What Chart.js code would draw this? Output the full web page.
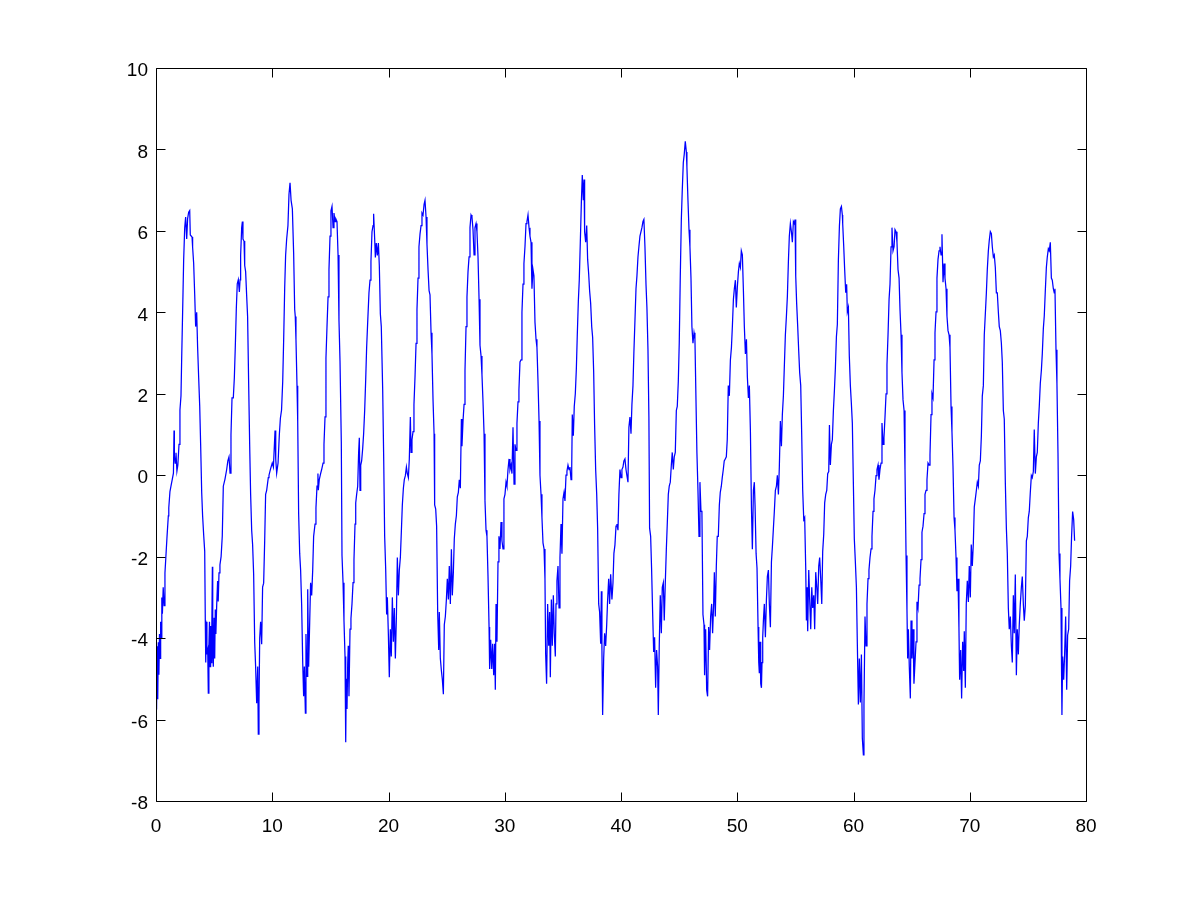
<!DOCTYPE html>
<html>
<head>
<meta charset="utf-8">
<script src="https://cdn.jsdelivr.net/npm/chart.js@4/dist/chart.umd.min.js"></script>
<style>
html,body{margin:0;padding:0;background:#fff;}
canvas{display:block;}
</style>
</head>
<body>
<canvas id="c" width="1200" height="901"></canvas>
<script>
// ---- data ----
const xTicks = [0, 10, 20, 30, 40, 50, 60, 70, 80];
const yTicks = [-8, -6, -4, -2, 0, 2, 4, 6, 8, 10];

const seg1 = [[0,-5.2],[0.05,-5.75],[0.1,-4.2],[0.15,-5.5],[0.2,-4.1],[0.25,-4.9],[0.3,-3.9],[0.35,-4.5],[0.4,-3.6],[0.45,-4.0],[0.5,-3.0],[0.55,-3.4],[0.62,-2.75],[0.7,-3.2],[0.77,-2.4],[0.85,-2.0],[0.95,-1.5],[1.06,-1.0],[1.1,-0.8],[1.2,-0.4],[1.3,-0.25],[1.4,-0.1],[1.5,0.05],[1.55,1.1],[1.58,0.5],[1.65,0.3],[1.72,0.55],[1.8,0.1],[1.88,0.25],[1.98,0.76],[2.06,1.6],[2.15,1.95],[2.21,2.88],[2.29,4.0],[2.38,5.3],[2.47,6.08],[2.55,6.34],[2.64,5.8],[2.72,6.3],[2.81,6.46],[2.9,6.5],[2.95,5.9],[3.1,5.85],[3.15,5.6],[3.24,5.2],[3.33,4.43],[3.41,3.65],[3.5,4.0],[3.58,3.14],[3.67,2.4],[3.76,1.7],[3.84,0.76],[3.93,-0.42],[4.01,-1.0],[4.1,-1.46],[4.19,-1.87],[4.24,-3.57],[4.28,-4.6],[4.33,-3.6],[4.38,-4.4],[4.45,-4.3],[4.5,-5.35],[4.55,-4.2],[4.6,-3.6],[4.65,-4.7],[4.7,-3.7],[4.75,-4.6],[4.8,-3.8],[4.85,-2.25],[4.88,-4.2],[4.93,-4.7],[5.0,-3.5],[5.05,-4.5],[5.1,-3.3],[5.15,-3.9],[5.22,-3.2],[5.3,-2.6],[5.35,-3.1],[5.42,-2.4],[5.5,-2.2],[5.6,-2.0],[5.7,-1.5],[5.79,-0.27],[5.93,-0.1],[6.08,0.14],[6.18,0.35],[6.28,0.45],[6.37,0.05],[6.45,1.0],[6.54,1.9],[6.65,1.9],[6.74,2.4],[6.82,3.14],[6.91,4.1],[6.99,4.7],[7.08,4.8],[7.17,4.5],[7.23,4.8],[7.28,5.4],[7.37,6.08],[7.43,6.23],[7.48,5.8],[7.57,5.75],[7.63,5.15],[7.71,5.0],[7.8,4.4],[7.88,3.9],[7.97,2.26],[8.06,0.71],[8.14,-0.47],[8.23,-1.35],[8.31,-1.7],[8.4,-2.44],[8.49,-4.1],[8.57,-4.7],[8.66,-5.6],[8.75,-4.7],[8.8,-6.36],[8.86,-5.6],[8.92,-4.0],[9.0,-3.6],[9.09,-4.15],[9.17,-2.75],[9.26,-2.65],[9.35,-1.6],[9.43,-0.47],[9.52,-0.37],[9.66,-0.06]];

const seg2 = [[9.72,0.0],[9.85,0.15],[10.0,0.3],[10.1,0.2],[10.24,1.1],[10.3,0.4],[10.38,0.05],[10.5,0.3],[10.61,1.0],[10.7,1.4],[10.8,1.6],[10.9,2.3],[10.98,3.3],[11.07,4.6],[11.15,5.4],[11.24,5.8],[11.35,6.13],[11.44,6.9],[11.53,7.18],[11.62,6.75],[11.73,6.54],[11.84,5.46],[11.93,4.07],[11.98,3.9],[12.04,3.34],[12.13,2.2],[12.19,1.33],[12.27,-0.94],[12.36,-1.92],[12.44,-2.33],[12.53,-3.2],[12.62,-4.6],[12.7,-5.43],[12.76,-4.7],[12.85,-5.84],[12.9,-3.9],[12.99,-4.94],[13.05,-2.8],[13.13,-4.7],[13.22,-3.62],[13.3,-2.64],[13.39,-2.95],[13.48,-2.33],[13.56,-1.5],[13.68,-1.2],[13.76,-0.8],[13.85,-0.27],[13.93,0.04],[13.96,-0.37],[14.05,-0.1],[14.16,0.04],[14.25,0.14],[14.37,0.3],[14.45,0.76],[14.54,1.43],[14.62,2.88],[14.71,3.65],[14.8,4.38],[14.88,5.05],[14.97,5.87],[15.05,6.49],[15.14,6.6],[15.23,6.08],[15.31,6.44],[15.4,6.23],[15.48,6.29],[15.57,6.23],[15.66,5.41],[15.74,3.8],[15.83,2.78],[15.94,0.82],[16.0,-1.97],[16.09,-2.64],[16.17,-3.57],[16.26,-4.45],[16.32,-6.56],[16.37,-5.0],[16.43,-5.74],[16.49,-4.65],[16.54,-4.19],[16.6,-5.43],[16.69,-3.78],[16.77,-3.52],[16.86,-3.16],[16.95,-2.64],[17.03,-2.07],[17.12,-1.2],[17.18,-0.68],[17.26,-0.47],[17.35,-0.27],[17.43,0.56],[17.49,0.92],[17.55,-0.37],[17.61,0.25],[17.69,0.35],[17.78,0.66],[17.86,1.02],[17.95,1.59],[18.04,2.36],[18.12,3.14],[18.21,3.76],[18.32,4.48],[18.41,4.79],[18.49,5.25],[18.58,5.98],[18.67,6.13],[18.72,6.42],[18.81,5.8],[18.87,5.35],[18.95,5.7],[19.04,5.4],[19.13,5.7],[19.21,5.15],[19.3,3.96],[19.38,3.65]];

const seg3 = [[19.5,2.1],[19.59,0.35],[19.67,-1.5],[19.76,-2.33],[19.84,-3.42],[19.9,-3.0],[19.99,-3.93],[20.07,-4.96],[20.16,-3.78],[20.24,-4.45],[20.33,-3.0],[20.42,-4.09],[20.5,-3.26],[20.59,-4.5],[20.68,-3.47],[20.76,-2.02],[20.85,-2.95],[20.93,-2.33],[21.02,-2.02],[21.11,-1.35],[21.19,-0.73],[21.28,-0.32],[21.36,-0.11],[21.45,-0.01],[21.54,0.2],[21.62,0.04],[21.71,-0.06],[21.79,0.4],[21.88,1.43],[21.94,0.56],[22.02,0.87],[22.11,1.07],[22.19,1.74],[22.28,2.41],[22.37,3.24],[22.45,4.07],[22.54,4.84],[22.62,5.61],[22.71,5.92],[22.8,6.13],[22.88,6.44],[22.97,6.39],[23.06,6.65],[23.14,6.75],[23.23,6.34],[23.31,5.67],[23.4,5.05],[23.49,4.53],[23.57,4.43],[23.66,3.5],[23.74,2.98],[23.83,1.85],[23.92,1.02],[23.97,-0.73],[24.06,-0.83],[24.14,-1.25],[24.23,-3.36],[24.32,-4.29],[24.37,-3.36],[24.46,-4.5],[24.55,-4.8],[24.63,-5.01],[24.72,-5.38],[24.8,-3.67],[24.89,-3.47],[24.98,-3.05],[25.06,-2.54],[25.15,-3.05],[25.23,-2.23],[25.32,-3.16],[25.41,-1.82],[25.49,-2.95],[25.58,-2.38],[25.66,-1.56],[25.75,-1.2],[25.84,-0.99],[25.92,-0.53],[26.01,-0.42],[26.09,-0.11],[26.18,-0.32],[26.27,1.38],[26.32,0.71],[26.41,1.33],[26.5,1.74],[26.58,2.57],[26.67,3.65],[26.75,4.38],[26.84,5.0],[26.93,5.36],[27.01,6.08],[27.1,6.39],[27.18,6.34],[27.27,6.03],[27.36,5.41],[27.44,6.08],[27.53,6.18],[27.61,5.98],[27.7,5.36],[27.79,4.32],[27.87,3.19],[27.96,2.93],[28.04,2.47],[28.13,1.8],[28.22,1.02],[28.3,-0.63],[28.39,-1.35],[28.47,-1.5],[28.56,-2.49],[28.65,-3.73],[28.7,-4.76],[28.79,-4.04],[28.88,-4.76],[28.96,-4.14],[29.05,-4.91],[29.13,-4.14],[29.19,-5.27]];

const seg4 = [[29.25,-3.16],[29.33,-4.09],[29.42,-2.13],[29.5,-1.5],[29.59,-1.81],[29.68,-1.15],[29.76,-1.61],[29.85,-1.81],[29.93,-0.58],[30.02,-0.47],[30.11,-0.17],[30.19,-0.27],[30.28,0.14],[30.37,0.4],[30.45,0.14],[30.54,0.25],[30.62,0.04],[30.71,1.18],[30.8,-0.22],[30.88,0.76],[30.97,0.61],[31.05,1.28],[31.14,1.8],[31.22,2.1],[31.31,2.78],[31.4,2.83],[31.48,4.0],[31.57,4.69],[31.65,5.2],[31.74,5.61],[31.83,6.18],[31.91,6.23],[32.0,6.39],[32.09,6.08],[32.17,5.87],[32.26,5.72],[32.34,4.58],[32.43,5.05],[32.51,4.9],[32.6,3.76],[32.69,3.34],[32.77,3.14],[32.86,2.31],[32.95,1.33],[33.03,0.0],[33.12,-0.47],[33.2,-1.04],[33.29,-1.66],[33.38,-1.81],[33.46,-2.54],[33.52,-4.4],[33.6,-5.12],[33.69,-3.16],[33.78,-4.19],[33.86,-3.36],[33.92,-4.96],[34.01,-3.05],[34.09,-4.19],[34.18,-2.95],[34.26,-3.88],[34.35,-4.45],[34.41,-3.16],[34.49,-2.59],[34.58,-2.23],[34.67,-3.26],[34.75,-2.02],[34.84,-1.2],[34.92,-1.93],[35.01,-0.58],[35.1,-0.42],[35.18,-0.63],[35.27,0.0],[35.35,0.1],[35.44,0.25],[35.53,0.14],[35.61,0.2],[35.7,-0.11],[35.76,0.14],[35.81,1.49],[35.9,0.97],[35.98,1.69],[36.07,2.0],[36.16,2.62],[36.24,3.45],[36.33,4.27],[36.41,4.79],[36.5,5.72],[36.59,6.7],[36.67,7.37],[36.76,6.75],[36.82,7.26],[36.87,5.98],[36.96,5.72],[37.05,6.13],[37.13,5.3],[37.22,4.94],[37.3,4.53],[37.39,4.22],[37.48,3.65],[37.56,3.39],[37.65,2.52],[37.73,1.23],[37.82,0.14],[37.91,-0.47],[37.99,-1.3],[38.08,-3.16],[38.16,-3.36],[38.25,-4.14],[38.31,-2.85],[38.36,-4.29],[38.42,-5.89],[38.51,-4.5],[38.59,-3.88],[38.68,-4.19],[38.77,-3.67],[38.85,-3.05],[38.94,-2.54],[39.02,-3.16],[39.11,-2.43]];

const seg5 = [[39.22,-3.05],[39.31,-2.64],[39.39,-1.92],[39.48,-1.71],[39.57,-1.25],[39.65,-1.2],[39.74,-1.35],[39.82,-0.47],[39.91,0.14],[40.0,-0.06],[40.08,0.14],[40.17,0.2],[40.25,0.35],[40.34,0.4],[40.43,0.14],[40.51,-0.01],[40.6,-0.17],[40.68,1.18],[40.77,1.43],[40.86,1.02],[40.94,1.74],[41.03,2.2],[41.11,3.03],[41.2,3.8],[41.29,4.58],[41.37,4.89],[41.46,5.36],[41.54,5.61],[41.63,5.87],[41.72,5.98],[41.8,6.08],[41.89,6.23],[41.97,6.28],[42.06,5.61],[42.15,4.69],[42.23,4.12],[42.32,3.08],[42.4,1.43],[42.46,-1.3],[42.55,-1.5],[42.63,-2.28],[42.72,-3.36],[42.81,-4.34],[42.89,-3.98],[42.98,-5.22],[43.06,-4.29],[43.15,-4.7],[43.21,-5.89],[43.29,-4.19],[43.38,-2.95],[43.47,-3.88],[43.55,-2.75],[43.64,-2.64],[43.72,-3.57],[43.81,-2.64],[43.9,-1.82],[43.98,-1.2],[44.07,-0.47],[44.15,-0.27],[44.24,-0.17],[44.33,0.25],[44.41,0.56],[44.5,0.14],[44.58,0.45],[44.67,0.56],[44.76,1.59],[44.84,1.69],[44.93,2.31],[45.01,3.24],[45.1,4.89],[45.19,6.28],[45.27,7.0],[45.36,7.68],[45.44,7.88],[45.53,8.2],[45.62,7.94],[45.67,7.57],[45.76,6.75],[45.85,6.03],[45.93,5.61],[46.02,4.84],[46.1,3.65],[46.19,3.24],[46.28,3.5],[46.36,3.34],[46.45,1.85],[46.53,0.56],[46.62,-0.37],[46.71,-1.5],[46.79,-0.17],[46.88,-0.89],[46.96,-0.89],[47.05,-3.42],[47.14,-3.67],[47.19,-4.91],[47.28,-3.78],[47.37,-5.27],[47.45,-5.43],[47.54,-3.73],[47.62,-4.29],[47.71,-3.47],[47.8,-3.16],[47.88,-3.88],[47.97,-3.16],[48.03,-2.38],[48.11,-3.47],[48.2,-2.23],[48.28,-1.5],[48.37,-1.5],[48.46,-0.73],[48.54,-0.42],[48.63,-0.27],[48.71,-0.06],[48.8,0.14],[48.88,0.35],[48.97,0.4],[49.06,0.45],[49.14,0.87],[49.23,2.2]];

const seg6 = [[49.32,1.95],[49.41,2.83],[49.5,3.14],[49.58,3.65],[49.67,4.32],[49.75,4.58],[49.84,4.79],[49.92,4.12],[50.01,4.63],[50.1,5.0],[50.18,5.2],[50.27,5.1],[50.35,5.51],[50.44,5.41],[50.53,4.53],[50.61,3.65],[50.7,2.98],[50.79,3.34],[50.87,2.41],[50.96,1.9],[51.04,2.2],[51.13,1.12],[51.22,-0.78],[51.3,-1.82],[51.39,-0.37],[51.47,-0.17],[51.53,-0.73],[51.62,-1.92],[51.7,-2.28],[51.79,-3.73],[51.85,-4.6],[51.9,-4.86],[51.96,-4.09],[52.02,-5.12],[52.08,-5.22],[52.13,-4.6],[52.19,-3.98],[52.25,-3.57],[52.33,-3.16],[52.42,-3.98],[52.51,-3.05],[52.59,-2.49],[52.68,-2.33],[52.76,-3.16],[52.85,-3.73],[52.94,-2.13],[53.02,-1.77],[53.11,-1.3],[53.19,-0.89],[53.28,-0.37],[53.37,-0.27],[53.45,0.0],[53.54,-0.47],[53.62,0.2],[53.71,1.33],[53.8,0.71],[53.88,1.49],[53.97,1.95],[54.05,2.67],[54.14,3.45],[54.23,3.91],[54.31,4.38],[54.4,5.25],[54.48,5.87],[54.57,6.18],[54.66,5.98],[54.74,5.72],[54.83,6.23],[54.91,6.18],[54.97,6.28],[55.03,4.89],[55.11,4.22],[55.2,3.65],[55.29,3.03],[55.37,2.52],[55.46,2.2],[55.55,0.92],[55.63,-0.37],[55.72,-1.09],[55.8,-1.04],[55.89,-2.28],[55.95,-3.57],[56.0,-2.75],[56.06,-3.83],[56.15,-2.33],[56.23,-3.05],[56.32,-3.78],[56.41,-2.75],[56.49,-3.26],[56.58,-2.95],[56.66,-3.78],[56.75,-2.38],[56.84,-2.75],[56.92,-3.16],[57.01,-2.23],[57.09,-2.02],[57.18,-2.54],[57.27,-3.16],[57.35,-1.87],[57.44,-1.45],[57.52,-0.68],[57.61,-0.47],[57.7,-0.37],[57.78,0.04],[57.87,0.09],[57.93,1.23],[58.01,0.25],[58.1,0.76],[58.18,0.87],[58.27,1.59],[58.36,2.1],[58.44,2.62],[58.53,3.4],[58.61,3.7],[58.7,5.3],[58.79,6.13],[58.87,6.54],[58.96,6.6],[59.04,6.39]];

const seg7 = [[59.07,6.18],[59.16,5.61],[59.24,5.05],[59.33,4.48],[59.41,4.69],[59.47,4.01],[59.56,4.12],[59.64,2.93],[59.73,2.2],[59.81,1.8],[59.9,1.28],[59.99,-0.22],[60.07,-1.56],[60.16,-2.13],[60.25,-2.75],[60.33,-4.14],[60.42,-5.63],[60.5,-4.5],[60.59,-5.58],[60.68,-4.4],[60.76,-6.46],[60.85,-6.87],[60.9,-5.63],[60.99,-3.47],[61.08,-4.19],[61.16,-3.16],[61.25,-2.54],[61.33,-2.33],[61.42,-2.02],[61.51,-1.81],[61.59,-1.5],[61.68,-0.89],[61.76,-0.58],[61.85,-0.37],[61.94,-0.01],[62.02,0.14],[62.11,0.25],[62.19,-0.11],[62.28,0.14],[62.37,0.3],[62.45,1.28],[62.54,0.76],[62.62,0.92],[62.71,1.43],[62.8,2.0],[62.88,2.72],[62.97,3.45],[63.06,4.32],[63.14,4.69],[63.23,5.61],[63.31,6.08],[63.4,5.51],[63.49,5.61],[63.57,6.03],[63.66,5.98],[63.74,5.72],[63.83,5.05],[63.92,4.84],[64.0,4.07],[64.09,3.45],[64.17,2.52],[64.26,1.85],[64.35,1.59],[64.43,0.14],[64.52,-1.97],[64.6,-3.31],[64.66,-4.5],[64.72,-3.78],[64.8,-4.7],[64.89,-5.48],[64.95,-3.57],[65.03,-4.5],[65.12,-3.78],[65.2,-5.12],[65.29,-4.6],[65.38,-4.09],[65.46,-3.11],[65.55,-3.26],[65.64,-2.7],[65.72,-2.54],[65.81,-2.07],[65.89,-1.4],[65.98,-1.25],[66.07,-0.94],[66.15,-0.47],[66.24,-0.37],[66.32,-0.11],[66.41,0.3],[66.5,0.25],[66.58,0.5],[66.67,1.49],[66.75,2.0],[66.84,1.9],[66.93,2.83],[67.01,3.5],[67.1,4.01],[67.18,4.84],[67.27,5.3],[67.36,5.51],[67.44,5.61],[67.53,5.41],[67.61,5.92],[67.7,4.74],[67.79,5.2],[67.87,4.84],[67.96,4.58],[68.04,3.91],[68.13,3.55],[68.22,3.45],[68.3,3.14],[68.39,1.69],[68.47,1.07],[68.56,0.2],[68.65,-1.04],[68.73,-1.35],[68.82,-2.02],[68.9,-2.85]];

const seg8 = [[68.99,-2.54],[69.07,-3.73],[69.13,-5.02],[69.22,-4.29],[69.3,-5.48],[69.39,-4.09],[69.48,-4.81],[69.53,-3.83],[69.62,-5.22],[69.7,-3.16],[69.79,-2.59],[69.88,-3.11],[69.96,-2.23],[70.05,-3.0],[70.13,-1.7],[70.22,-2.23],[70.31,-1.66],[70.39,-0.78],[70.48,-0.58],[70.57,-0.37],[70.65,-0.17],[70.74,-0.27],[70.82,0.25],[70.91,0.35],[71.0,0.97],[71.08,1.95],[71.17,2.2],[71.25,3.45],[71.34,3.96],[71.43,4.48],[71.51,5.05],[71.6,5.51],[71.68,5.77],[71.77,5.98],[71.86,5.93],[71.94,5.61],[72.03,5.36],[72.11,5.41],[72.2,5.1],[72.29,4.48],[72.37,4.48],[72.46,4.01],[72.54,3.65],[72.63,3.55],[72.72,3.24],[72.8,2.78],[72.89,1.59],[72.97,1.38],[73.06,-0.17],[73.15,-1.3],[73.23,-1.92],[73.32,-3.26],[73.4,-3.78],[73.49,-3.47],[73.58,-4.19],[73.66,-4.6],[73.75,-2.95],[73.83,-3.88],[73.92,-2.44],[74.01,-4.91],[74.09,-3.78],[74.18,-4.4],[74.26,-3.67],[74.35,-3.16],[74.44,-2.75],[74.52,-2.49],[74.61,-3.16],[74.69,-3.57],[74.78,-3.21],[74.87,-1.61],[74.95,-1.5],[75.04,-1.04],[75.12,-0.89],[75.21,-0.42],[75.3,-0.01],[75.38,-0.06],[75.47,0.09],[75.55,1.12],[75.64,0.04],[75.73,0.45],[75.81,0.56],[75.9,1.28],[75.98,1.69],[76.07,2.26],[76.16,2.57],[76.24,2.98],[76.33,3.6],[76.41,3.91],[76.5,4.53],[76.59,5.1],[76.67,5.36],[76.76,5.56],[76.84,5.51],[76.93,5.72],[77.02,4.84],[77.1,4.79],[77.19,4.58],[77.27,4.48],[77.33,4.58],[77.42,3.08],[77.5,2.26],[77.59,0.56],[77.68,-1.92],[77.76,-2.54],[77.85,-3.26],[77.93,-5.89],[77.99,-4.45],[78.08,-5.02],[78.16,-4.4],[78.25,-3.47],[78.34,-5.27],[78.42,-3.93],[78.51,-3.78],[78.59,-2.59],[78.68,-2.23],[78.76,-1.5],[78.85,-0.89],[78.94,-1.09],[79.02,-1.61]];

const signal = [].concat(seg1, seg2, seg3, seg4, seg5, seg6, seg7, seg8);

// ---- chart ----
const FONT = {family: '"Liberation Sans", Arial, Helvetica, sans-serif', size: 19};

const framePlugin = {
  id: 'matlabFrame',
  afterDraw(chart) {
    const {ctx, chartArea: a, scales} = chart;
    const x = scales.x, y = scales.y;
    const L = 9;
    const l = Math.round(a.left) + 0.5, r = Math.round(a.right) + 0.5;
    const t = Math.round(a.top) + 0.5, b = Math.round(a.bottom) + 0.5;
    ctx.save();
    ctx.strokeStyle = '#000';
    ctx.lineWidth = 1;
    ctx.beginPath();
    ctx.rect(l, t, r - l, b - t);
    xTicks.forEach(v => {
      const px = Math.round(x.getPixelForValue(v)) + 0.5;
      ctx.moveTo(px, b); ctx.lineTo(px, b - L);
      ctx.moveTo(px, t); ctx.lineTo(px, t + L);
    });
    yTicks.forEach(v => {
      const py = Math.round(y.getPixelForValue(v)) + 0.5;
      ctx.moveTo(l, py); ctx.lineTo(l + L, py);
      ctx.moveTo(r, py); ctx.lineTo(r - L, py);
    });
    ctx.stroke();
    ctx.restore();
  }
};

new Chart(document.getElementById('c'), {
  type: 'scatter',
  data: {
    datasets: [{
      data: signal.map(p => ({x: p[0], y: p[1]})),
      showLine: true,
      borderColor: '#0000ff',
      backgroundColor: '#0000ff',
      borderWidth: 1.25,
      pointRadius: 0,
      tension: 0
    }]
  },
  options: {
    responsive: false,
    animation: false,
    devicePixelRatio: 1,
    layout: {padding: {left: 0, top: 68, right: 114, bottom: 0}},
    plugins: {legend: {display: false}, tooltip: {enabled: false}},
    scales: {
      x: {
        type: 'linear', min: 0, max: 80,
        afterBuildTicks: s => { s.ticks = xTicks.map(v => ({value: v})); },
        ticks: {color: '#000', font: FONT, padding: 14, maxRotation: 0, autoSkip: false},
        grid: {display: false, drawTicks: false},
        border: {display: false},
        afterFit: s => { s.height = 100; }
      },
      y: {
        type: 'linear', min: -8, max: 10,
        afterBuildTicks: s => { s.ticks = yTicks.map(v => ({value: v})); },
        ticks: {color: '#000', font: FONT, padding: 8, labelOffset: 3, autoSkip: false},
        grid: {display: false, drawTicks: false},
        border: {display: false},
        afterFit: s => { s.width = 156; }
      }
    }
  },
  plugins: [framePlugin]
});
</script>
</body>
</html>
